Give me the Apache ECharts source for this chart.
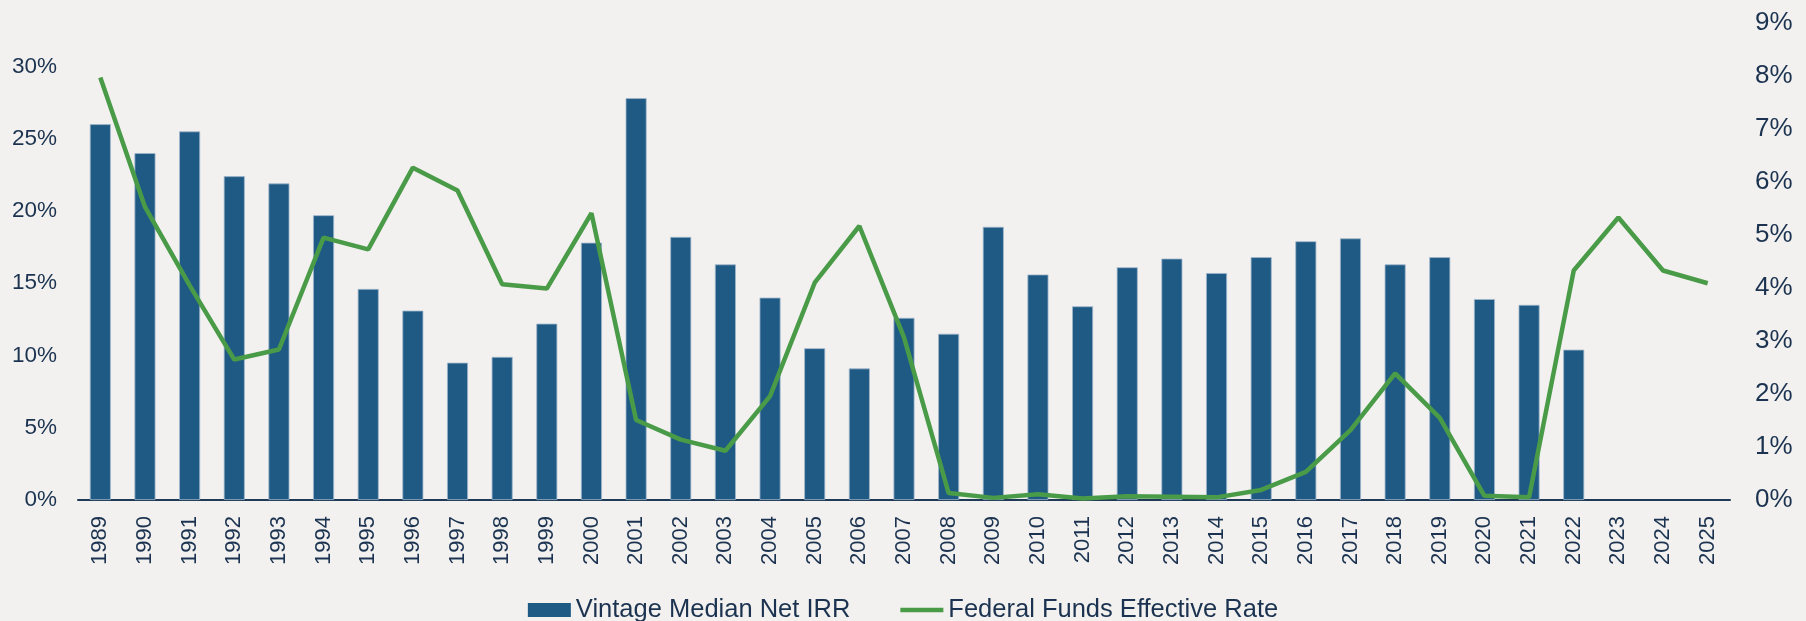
<!DOCTYPE html>
<html>
<head>
<meta charset="utf-8">
<title>Vintage Median Net IRR vs Federal Funds Effective Rate</title>
<script src="https://cdn.jsdelivr.net/npm/echarts@6/dist/echarts.min.js"></script>
<style>
    html, body { margin: 0; padding: 0; background: #f2f1ef; }
    #chart_con { width: 1806px; height: 621px; }
</style>
</head>
<body>
<div id="chart_con"></div>
<script>
    // vintage years
    var years = ['1989','1990','1991','1992','1993','1994','1995','1996','1997','1998',
                 '1999','2000','2001','2002','2003','2004','2005','2006','2007','2008',
                 '2009','2010','2011','2012','2013','2014','2015','2016','2017','2018',
                 '2019','2020','2021','2022','2023','2024','2025'];

    // median net IRR by vintage (%), no data after 2022
    var medianIrr = [26.0, 24.0, 25.5, 22.4, 21.9, 19.7, 14.6, 13.1, 9.5, 9.9,
                     12.2, 17.8, 27.8, 18.2, 16.3, 14.0, 10.5, 9.1, 12.6, 11.5,
                     18.9, 15.6, 13.4, 16.1, 16.7, 15.7, 16.8, 17.9, 18.1, 16.3,
                     16.8, 13.9, 13.5, 10.4, null, null, null];

    // federal funds effective rate (%)
    var fedFunds = [7.97, 5.53, 4.05, 2.65, 2.84, 4.95, 4.73, 6.27, 5.84, 4.07,
                    3.99, 5.41, 1.51, 1.14, 0.93, 1.96, 4.10, 5.17, 3.07, 0.13,
                    0.04, 0.11, 0.03, 0.07, 0.06, 0.05, 0.19, 0.53, 1.32, 2.39,
                    1.55, 0.08, 0.05, 4.33, 5.33, 4.33, 4.09];

    var navy = '#1b3350';
    var green = '#4a9b48';
    var font = '"Liberation Sans", Arial, sans-serif';

    var chart = echarts.init(document.getElementById('chart_con'));
    var option = {
        backgroundColor: '#f2f1ef',
        textStyle: { fontFamily: font, color: navy },
        animation: false,
        legend: {
            top: 592,
            left: 'center',
            itemWidth: 43,
            itemHeight: 14,
            itemGap: 50,
            textStyle: { fontFamily: font, fontSize: 25.5, color: navy },
            data: [
                { name: 'Vintage Median Net IRR', icon: 'rect', itemStyle: { borderWidth: 0 } },
                { name: 'Federal Funds Effective Rate', icon: 'path://M0,0 L43,0 L43,4.5 L0,4.5 Z' }
            ]
        },
        grid: {
            left: 78,
            right: 76,
            top: 23,
            bottom: 121,
            containLabel: false
        },
        xAxis: {
            type: 'category',
            data: years,
            boundaryGap: true,
            axisLine: { lineStyle: { color: '#1f3a57', width: 2 } },
            axisTick: { show: false },
            axisLabel: {
                interval: 0,
                rotate: 90,
                margin: 16,
                fontSize: 22,
                color: navy
            }
        },
        yAxis: [
            {
                type: 'value',
                min: 0,
                max: 33,
                interval: 5,
                splitLine: { show: false },
                axisLine: { show: false },
                axisTick: { show: false },
                axisLabel: {
                    formatter: '{value}%',
                    showMaxLabel: false,
                    margin: 21,
                    fontSize: 22.5,
                    color: navy
                }
            },
            {
                type: 'value',
                position: 'right',
                min: 0,
                max: 9,
                interval: 1,
                splitLine: { show: false },
                axisLine: { show: false },
                axisTick: { show: false },
                axisLabel: {
                    formatter: '{value}%',
                    margin: 25,
                    fontSize: 26,
                    color: navy
                }
            }
        ],
        series: [
            {
                name: 'Vintage Median Net IRR',
                type: 'bar',
                yAxisIndex: 0,
                barWidth: 21,
                itemStyle: {
                    color: '#1f5a85',
                    borderColor: '#9fb6cc',
                    borderWidth: 0.8
                },
                data: medianIrr
            },
            {
                name: 'Federal Funds Effective Rate',
                type: 'line',
                yAxisIndex: 1,
                symbol: 'none',
                z: 5,
                lineStyle: { color: green, width: 4.5 },
                itemStyle: { color: green },
                data: fedFunds
            }
        ]
    };
    chart.setOption(option);
</script>
</body>
</html>
